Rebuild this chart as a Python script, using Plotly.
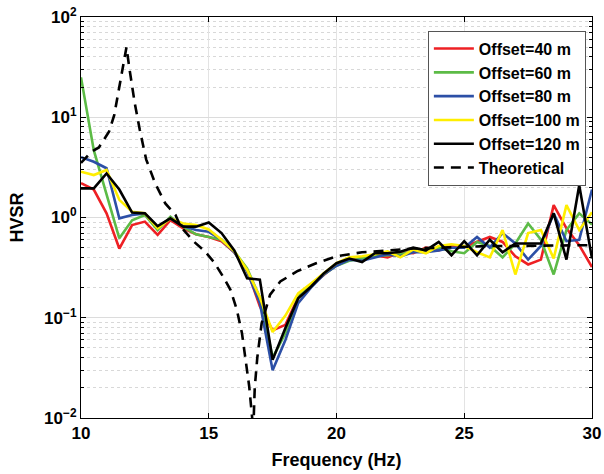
import plotly.graph_objects as go

freq = [10.0, 10.5, 11.0, 11.5, 12.0, 12.5, 13.0, 13.5, 14.0, 14.5,
        15.0, 15.5, 16.0, 16.5, 17.0, 17.5, 18.0, 18.5, 19.0, 19.5,
        20.0, 20.5, 21.0, 21.5, 22.0, 22.5, 23.0, 23.5, 24.0, 24.5,
        25.0, 25.5, 26.0, 26.5, 27.0, 27.5, 28.0, 28.5, 29.0, 29.5, 30.0]

hvsr_40 = [2.2, 1.9, 1.1, 0.49, 0.84, 0.91, 0.67, 0.94, 0.78, 0.68,
           0.64, 0.58, 0.45, 0.30, 0.13, 0.075, 0.085, 0.16, 0.21, 0.27,
           0.34, 0.38, 0.40, 0.42, 0.40, 0.45, 0.44, 0.50, 0.47, 0.52,
           0.51, 0.57, 0.64, 0.57, 0.41, 0.34, 0.38, 1.33, 0.78, 0.53, 0.32]

hvsr_60 = [25.0, 4.7, 1.7, 0.62, 0.94, 1.06, 0.75, 1.02, 0.81, 0.68,
           0.64, 0.60, 0.46, 0.31, 0.16, 0.040, 0.070, 0.16, 0.21, 0.27,
           0.33, 0.37, 0.39, 0.41, 0.42, 0.43, 0.46, 0.48, 0.50, 0.46,
           0.44, 0.57, 0.52, 0.40, 0.55, 0.87, 0.60, 0.27, 0.75, 1.10, 0.85]

hvsr_80 = [4.0, 3.6, 3.1, 0.98, 1.06, 1.10, 0.80, 0.98, 0.82, 0.75,
           0.72, 0.60, 0.45, 0.29, 0.14, 0.030, 0.060, 0.14, 0.20, 0.27,
           0.33, 0.38, 0.37, 0.40, 0.43, 0.41, 0.45, 0.45, 0.47, 0.50,
           0.50, 0.64, 0.50, 0.70, 0.55, 0.38, 0.52, 1.10, 0.58, 0.60, 1.90]

hvsr_100 = [2.86, 2.65, 2.98, 1.50, 1.14, 1.10, 0.78, 0.98, 0.87, 0.84,
            0.76, 0.60, 0.46, 0.30, 0.16, 0.072, 0.105, 0.175, 0.22, 0.28,
            0.35, 0.40, 0.41, 0.43, 0.46, 0.40, 0.48, 0.44, 0.52, 0.54,
            0.52, 0.45, 0.40, 0.75, 0.27, 0.70, 0.75, 0.39, 1.33, 0.75, 1.13]

hvsr_120 = [1.95, 1.95, 2.75, 1.90, 1.12, 1.10, 0.82, 0.98, 0.81, 0.81,
            0.89, 0.70, 0.47, 0.247, 0.24, 0.038, 0.079, 0.156, 0.204, 0.277,
            0.35, 0.39, 0.36, 0.44, 0.44, 0.455, 0.50, 0.47, 0.57, 0.42,
            0.58, 0.42, 0.60, 0.45, 0.55, 0.55, 0.55, 1.10, 0.38, 2.10, 0.39]

theory_freq = [10.0, 10.4, 10.7, 11.1, 11.3, 11.5, 11.65, 11.78, 11.9, 12.1,
               12.3, 12.55, 12.9, 13.3, 13.7, 13.9, 14.4, 14.85, 15.2, 15.55,
               15.85, 16.1, 16.3, 16.45, 16.58, 16.7, 16.73, 16.8, 16.9, 17.07,
               17.4, 17.8, 18.45, 19.2, 20.0, 21.0, 22.0, 23.0, 24.0, 25.0,
               26.0, 27.0, 28.0, 29.0, 30.0]
theory_hvsr = [3.5, 4.5, 5.0, 7.2, 10.5, 20.0, 35.0, 50.0, 30.0, 14.0,
               7.5, 3.8, 2.2, 1.38, 1.06, 0.81, 0.58, 0.46, 0.36, 0.26,
               0.19, 0.12, 0.07, 0.038, 0.021, 0.010, 0.006, 0.02, 0.04, 0.088,
               0.17, 0.23, 0.29, 0.35, 0.41, 0.45, 0.47, 0.49, 0.50, 0.51,
               0.52, 0.52, 0.525, 0.53, 0.53]

series_names = ["Offset=40 m", "Offset=60 m", "Offset=80 m", "Offset=100 m", "Offset=120 m"]
series_vals = [hvsr_40, hvsr_60, hvsr_80, hvsr_100, hvsr_120]
series_colors = ["#EE2024", "#5CBB46", "#2C4FA6", "#FFEE00", "#000000"]

x_ticks = [10, 15, 20, 25, 30]
y_ticks = [0.01, 0.1, 1, 10, 100]
y_ticktext = ["10<sup>−2</sup>", "10<sup>−1</sup>", "10<sup>0</sup>", "10<sup>1</sup>", "10<sup>2</sup>"]

FONT = "Liberation Sans, Arial, sans-serif"

fig = go.Figure()
for name, vals, col in zip(series_names, series_vals, series_colors):
    fig.add_trace(go.Scatter(x=freq, y=vals, mode="lines", name=name,
                             line=dict(color=col, width=2.6)))
fig.add_trace(go.Scatter(x=theory_freq, y=theory_hvsr, mode="lines", name="Theoretical",
                         line=dict(color="black", width=2.6, dash="10px,7px")))

minor_vals = [k * 10 ** e for e in range(-2, 2) for k in range(2, 10)]

fig.update_layout(
    width=604, height=474,
    margin=dict(l=81, r=12, t=17, b=56, autoexpand=False),
    plot_bgcolor="white", paper_bgcolor="white",
    font=dict(family=FONT, size=16, color="black", weight="bold"),
    showlegend=True,
    legend=dict(x=0.988, y=0.966, xanchor="right", yanchor="top",
                bgcolor="white", bordercolor="#555555", borderwidth=1,
                font=dict(family=FONT, size=16, color="black", weight="bold"),
                tracegroupgap=0, itemwidth=40),
)

fig.update_xaxes(
    range=[10, 30], tickvals=x_ticks, ticktext=[f"<b>{v}</b>" for v in x_ticks],
    tickfont=dict(family=FONT, size=17, color="black", weight="bold"),
    showgrid=True, gridcolor="#e3e3e3", gridwidth=1,
    showline=True, linecolor="black", linewidth=1, mirror="ticks",
    ticks="inside", ticklen=5, tickcolor="black", automargin=False,
    title=dict(text="<b>Frequency (Hz)</b>", font=dict(family=FONT, size=18, color="black"), standoff=10),
    zeroline=False,
)
fig.update_yaxes(
    type="log", range=[-2, 2], tickvals=y_ticks, ticktext=[f"<b>{t}</b>" for t in y_ticktext],
    tickfont=dict(family=FONT, size=17, color="black", weight="bold"),
    showgrid=True, gridcolor="#dcdcdc", gridwidth=1,
    showline=True, linecolor="black", linewidth=1, mirror="ticks",
    ticks="inside", ticklen=5, tickcolor="black", automargin=False,
    minor=dict(tickvals=minor_vals, ticks="inside", ticklen=3, tickcolor="black",
               showgrid=True, gridcolor="#d8d8d8", griddash="dot", gridwidth=1),
    title=dict(text="<b>HVSR</b>", font=dict(family=FONT, size=18, color="black"), standoff=15),
    zeroline=False,
)

fig.write_html("out.html", config={"displayModeBar": False},
               post_script="document.body.style.margin='0px';document.body.style.overflow='hidden';")
